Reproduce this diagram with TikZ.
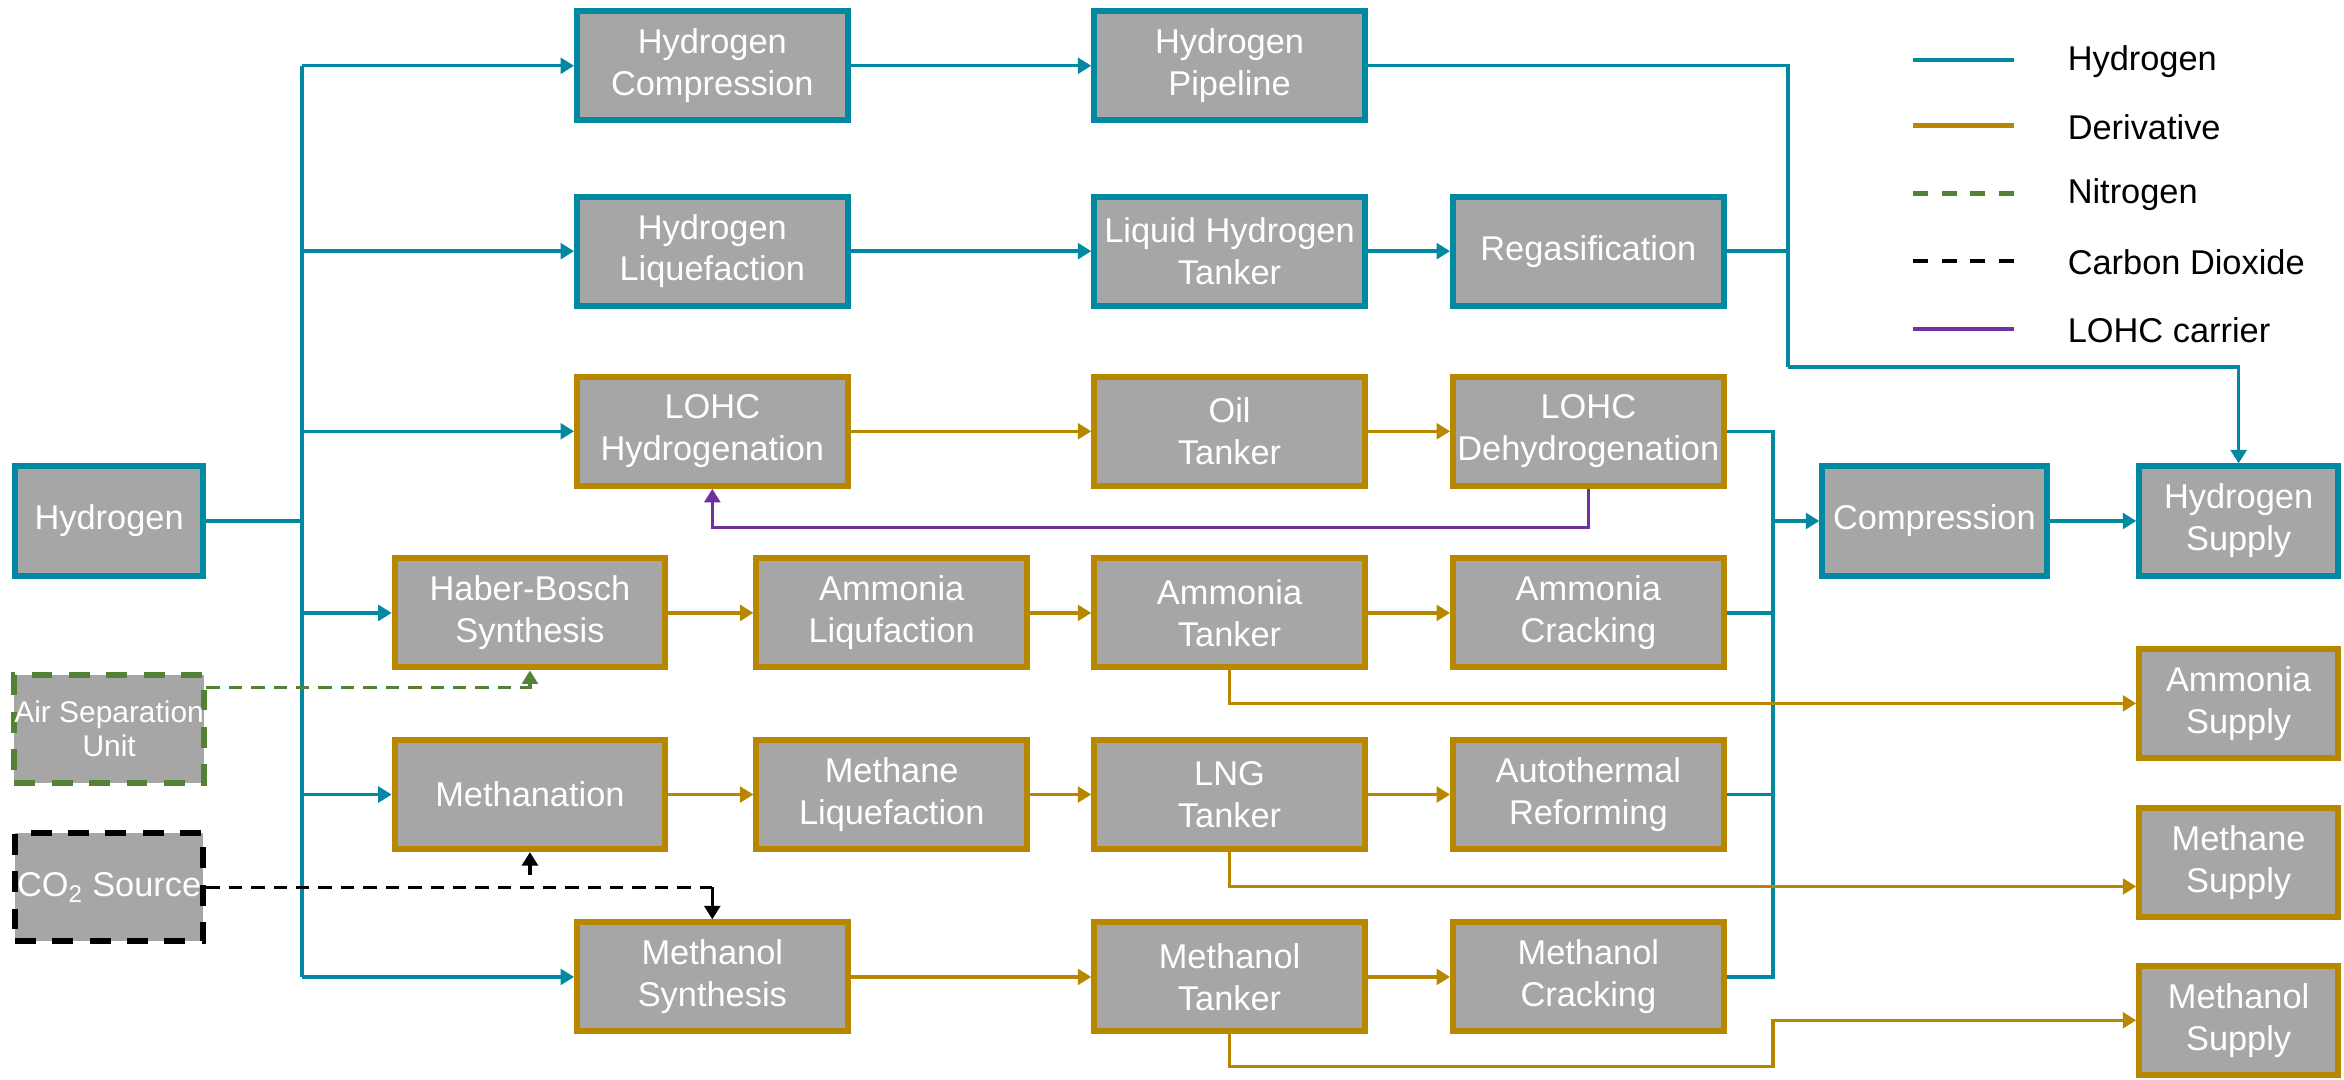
\documentclass[tikz,border=0pt]{standalone}
\usepackage{fontspec}
\setmainfont{Liberation Sans}
\usetikzlibrary{arrows.meta}
\definecolor{hblue}{RGB}{0,137,160}
\definecolor{dgold}{RGB}{184,135,0}
\definecolor{ngreen}{RGB}{83,129,53}
\definecolor{lpurple}{RGB}{112,48,160}
\definecolor{boxgray}{RGB}{166,166,166}
\begin{document}
\begin{tikzpicture}[x=1pt,y=-1pt,
  box/.style={line width=4pt, fill=boxgray, text=white, align=center,
    font=\fontsize{23}{28}\selectfont, inner sep=0pt,
    minimum width=181pt, minimum height=73pt},
  hbox/.style={box, draw=hblue},
  dbox/.style={box, draw=dgold},
  tip/.style={-{Triangle[length=9pt,width=10.5pt]}},
  hline/.style={draw=hblue, line width=2.2pt},
  dline/.style={draw=dgold, line width=2.2pt},
  pline/.style={draw=lpurple, line width=2.2pt},
  nline/.style={draw=ngreen, line width=2.2pt, dash pattern=on 9pt off 6pt},
  cline/.style={draw=black, line width=2.2pt, dash pattern=on 9pt off 6pt},
  csolid/.style={draw=black, line width=2.2pt},
  legline/.style={line width=3pt},
  legtext/.style={anchor=west, inner sep=0pt, font=\fontsize{23}{28}\selectfont}
]
\useasboundingbox (0,0) rectangle (1568,722);

% left column
\node[hbox, minimum width=126pt] (h2) at (73,348.5) {Hydrogen};
\node[box, draw=ngreen, dash pattern=on 14pt off 11pt, minimum width=126pt, minimum height=72pt,
  font=\fontsize{20}{23}\selectfont] (asu) at (73,487.5) {Air Separation\\Unit};
\node[box, draw=black, dash pattern=on 14pt off 11pt, minimum width=126pt, minimum height=72.5pt] (co2) at (73,593.5) {CO\textsubscript{2} Source};

% column B
\node[dbox] (hb) at (354.5,410) {Haber-Bosch\\Synthesis};
\node[dbox] (meth) at (354.5,531.5) {Methanation};

% column C
\node[hbox] (hc) at (476.5,44) {Hydrogen\\Compression};
\node[hbox] (hl) at (476.5,168) {Hydrogen\\Liquefaction};
\node[dbox] (lohch) at (476.5,288.5) {LOHC\\Hydrogenation};
\node[dbox] (msyn) at (476.5,653.5) {Methanol\\Synthesis};

% column D
\node[dbox] (al) at (596.5,410) {Ammonia\\Liqufaction};
\node[dbox] (ml) at (596.5,531.5) {Methane\\Liquefaction};

% column E
\node[hbox] (pipe) at (822.5,44) {Hydrogen\\Pipeline};
\node[hbox] (lht) at (822.5,168) {Liquid Hydrogen\\Tanker};
\node[dbox] (oil) at (822.5,288.5) {Oil\\Tanker};
\node[dbox] (at) at (822.5,410) {Ammonia\\Tanker};
\node[dbox] (lng) at (822.5,531.5) {LNG\\Tanker};
\node[dbox] (mt) at (822.5,653.5) {Methanol\\Tanker};

% column F
\node[hbox] (regas) at (1062.5,168) {Regasification};
\node[dbox] (dehyd) at (1062.5,288.5) {LOHC\\Dehydrogenation};
\node[dbox] (ac) at (1062.5,410) {Ammonia\\Cracking};
\node[dbox] (atr) at (1062.5,531.5) {Autothermal\\Reforming};
\node[dbox] (mc) at (1062.5,653.5) {Methanol\\Cracking};

% right side
\node[hbox, minimum width=150pt] (comp) at (1294,348.5) {Compression};
\node[hbox, minimum width=133pt] (h2sup) at (1497.5,348.5) {Hydrogen\\Supply};
\node[dbox, minimum width=133pt] (asup) at (1497.5,470.5) {Ammonia\\Supply};
\node[dbox, minimum width=133pt] (msup) at (1497.5,577) {Methane\\Supply};
\node[dbox, minimum width=133pt] (mosup) at (1497.5,682.5) {Methanol\\Supply};

% coordinates
\coordinate (lbus) at (202,348.5);
\coordinate (lbtop) at (202,44);
\coordinate (lbbot) at (202,653.5);
\coordinate (rbus) at (1186,348.5);
\coordinate (tcor) at (1196,44);
\coordinate (tbend) at (1196,245.5);
\coordinate (nstart) at (138,460);
\coordinate (cend) at (476.5,593.5);
\coordinate (cup) at (354.5,585);
\coordinate (mtbend) at (1186,713.5);

% hydrogen (left bus)
\draw[hline] (h2.east) -- (lbus);
\draw[hline] (lbtop) -- (lbbot);
\draw[hline,tip] (lbtop) -- (hc.west);
\draw[hline,tip] (lbus |- hl.west) -- (hl.west);
\draw[hline,tip] (lbus |- lohch.west) -- (lohch.west);
\draw[hline,tip] (lbus |- hb.west) -- (hb.west);
\draw[hline,tip] (lbus |- meth.west) -- (meth.west);
\draw[hline,tip] (lbbot) -- (msyn.west);

% hydrogen chains
\draw[hline,tip] (hc.east) -- (pipe.west);
\draw[hline,tip] (hl.east) -- (lht.west);
\draw[hline,tip] (lht.east) -- (regas.west);
\draw[hline] (pipe.east) -- (tcor) -- (tbend);
\draw[hline] (regas.east) -- (tcor |- regas.east);
\draw[hline,tip] (tbend) -| (h2sup.north);

% right bus
\draw[hline] (dehyd.east) -| (rbus |- mc.east) -- (mc.east);
\draw[hline] (ac.east) -- (rbus |- ac.east);
\draw[hline] (atr.east) -- (rbus |- atr.east);
\draw[hline,tip] (rbus) -- (comp.west);
\draw[hline,tip] (comp.east) -- (h2sup.west);

% derivative chains
\draw[dline,tip] (lohch.east) -- (oil.west);
\draw[dline,tip] (oil.east) -- (dehyd.west);
\draw[dline,tip] (hb.east) -- (al.west);
\draw[dline,tip] (al.east) -- (at.west);
\draw[dline,tip] (at.east) -- (ac.west);
\draw[dline,tip] (meth.east) -- (ml.west);
\draw[dline,tip] (ml.east) -- (lng.west);
\draw[dline,tip] (lng.east) -- (atr.west);
\draw[dline,tip] (msyn.east) -- (mt.west);
\draw[dline,tip] (mt.east) -- (mc.west);
\draw[dline,tip] (at.south) |- (asup.west);
\draw[dline,tip] (lng.south) |- (msup.west |- 0,593);
\draw[dline,tip] (mt.south) |- (mtbend) |- (mosup.west);

% LOHC carrier
\draw[pline,tip] (dehyd.south) -- (dehyd.south |- 0,353) -| (lohch.south);

% nitrogen
\draw[nline,tip] (nstart) -| (hb.south);

% carbon dioxide
\draw[cline] (co2.east) -- (cend);
\draw[csolid,tip] (cend) -- (msyn.north);
\draw[csolid,tip] (cup) -- (meth.south);

% legend
\coordinate (lg1a) at (1280,40); \coordinate (lg1b) at (1347,40);
\coordinate (lg2a) at (1280,84); \coordinate (lg2b) at (1347,84);
\coordinate (lg3a) at (1280,129.5); \coordinate (lg3b) at (1347,129.5);
\coordinate (lg4a) at (1280,174.5); \coordinate (lg4b) at (1347,174.5);
\coordinate (lg5a) at (1280,220); \coordinate (lg5b) at (1347,220);
\draw[legline, draw=hblue] (lg1a) -- (lg1b);
\draw[legline, draw=dgold] (lg2a) -- (lg2b);
\draw[legline, draw=ngreen, dash pattern=on 10pt off 9pt] (lg3a) -- (lg3b);
\draw[legline, draw=black, dash pattern=on 10pt off 9pt] (lg4a) -- (lg4b);
\draw[legline, draw=lpurple] (lg5a) -- (lg5b);
\node[legtext] (t1) at (1383,41) {Hydrogen};
\node[legtext] (t2) at (1383,85) {Derivative};
\node[legtext] (t3) at (1383,130.5) {Nitrogen};
\node[legtext] (t4) at (1383,175.5) {Carbon Dioxide};
\node[legtext] (t5) at (1383,221) {LOHC carrier};
\end{tikzpicture}
\end{document}
